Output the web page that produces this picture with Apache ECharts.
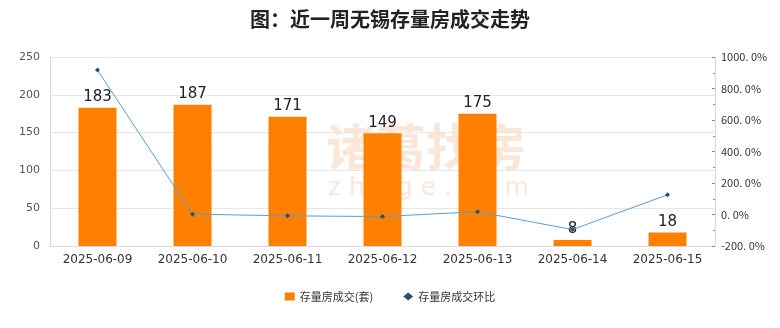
<!DOCTYPE html>
<html><head><meta charset="utf-8">
<script src="https://cdn.jsdelivr.net/npm/echarts@6/dist/echarts.min.js"></script>
<style>html,body{margin:0;padding:0;background:#fff}#c{width:780px;height:328px}</style>
</head><body><div id="c"></div>
<script>
var categories = ['2025-06-09','2025-06-10','2025-06-11','2025-06-12','2025-06-13','2025-06-14','2025-06-15'];
var volumes = [183, 187, 171, 149, 175, 8, 18];
var changes = [916.7, 2.2, -8.6, -12.9, 17.4, -95.4, 125.0];
var titleText = '图：近一周无锡存量房成交走势';
var barName = '存量房成交(套)';
var lineName = '存量房成交环比';

var chart = echarts.init(document.getElementById('c'));
chart.setOption({
  animation: false,
  title: {text: titleText, left: 'center', top: 4,
    textStyle: {fontSize: 20, fontWeight: 'bold', color: '#222', fontFamily: 'Noto Sans CJK SC'}},
  graphic: [
    {type: 'text', left: 326, top: 122, z: -10, silent: true, style: {text: '诸葛找房', fontSize: 50, fontWeight: 'bold', fill: 'rgba(240,170,110,0.28)', fontFamily: 'Noto Sans CJK SC'}},
    {type: 'text', left: 328, top: 176, z: -10, silent: true, style: {text: 'z h u g e . c o m', fontSize: 25, fill: 'rgba(240,170,110,0.28)', fontFamily: 'DejaVu Sans'}}
  ],
  legend: {bottom: 21, left: 'center', itemGap: 30, itemWidth: 10, itemHeight: 8,
    textStyle: {fontSize: 11, color: '#333', fontFamily: 'Noto Sans CJK SC'},
    data: [{name: barName, icon: 'rect'}, {name: lineName, icon: 'diamond', itemStyle: {color: '#2F4F6F'}}]},
  grid: {left: 50, right: 65, top: 57, bottom: 82},
  xAxis: {type: 'category', data: categories,
    axisLine: {lineStyle: {color: '#d9d9d9'}}, axisTick: {show: false},
    axisLabel: {fontSize: 12, color: '#333', margin: 8, fontFamily: 'DejaVu Sans'}},
  yAxis: [
    {type: 'value', min: 0, max: 250, interval: 50,
      axisLine: {show: true, lineStyle: {color: '#d9d9d9'}},
      axisLabel: {fontSize: 11, color: '#555', margin: 10, fontFamily: 'DejaVu Sans'},
      splitLine: {lineStyle: {color: '#e6e6e6'}}},
    {type: 'value', min: -200, max: 1000, interval: 200,
      axisLine: {show: true, lineStyle: {color: '#d9d9d9'}},
      axisTick: {show: true, inside: true, length: 3, lineStyle: {color: '#888'}},
      minorTick: {show: true, splitNumber: 2, length: 2, lineStyle: {color: '#888'}},
      axisLabel: {fontSize: 11, color: '#333', margin: 6, fontFamily: 'Noto Sans CJK SC',
        formatter: function(v){return v.toFixed(1).replace('.', '. ') + '%';}},
      splitLine: {show: false}}
  ],
  series: [
    {name: barName, type: 'bar', data: volumes, barWidth: 38, z: 2,
      itemStyle: {color: '#FF8000'},
      label: {show: true, position: 'top', distance: 3, fontSize: 15, color: '#222', fontFamily: 'DejaVu Sans'}},
    {name: lineName, type: 'line', yAxisIndex: 1, data: changes, z: 3,
      symbol: 'diamond', symbolSize: 5,
      lineStyle: {color: '#5B9BD5', width: 1},
      itemStyle: {color: '#2F4F6F'}}
  ]
});
</script></body></html>
